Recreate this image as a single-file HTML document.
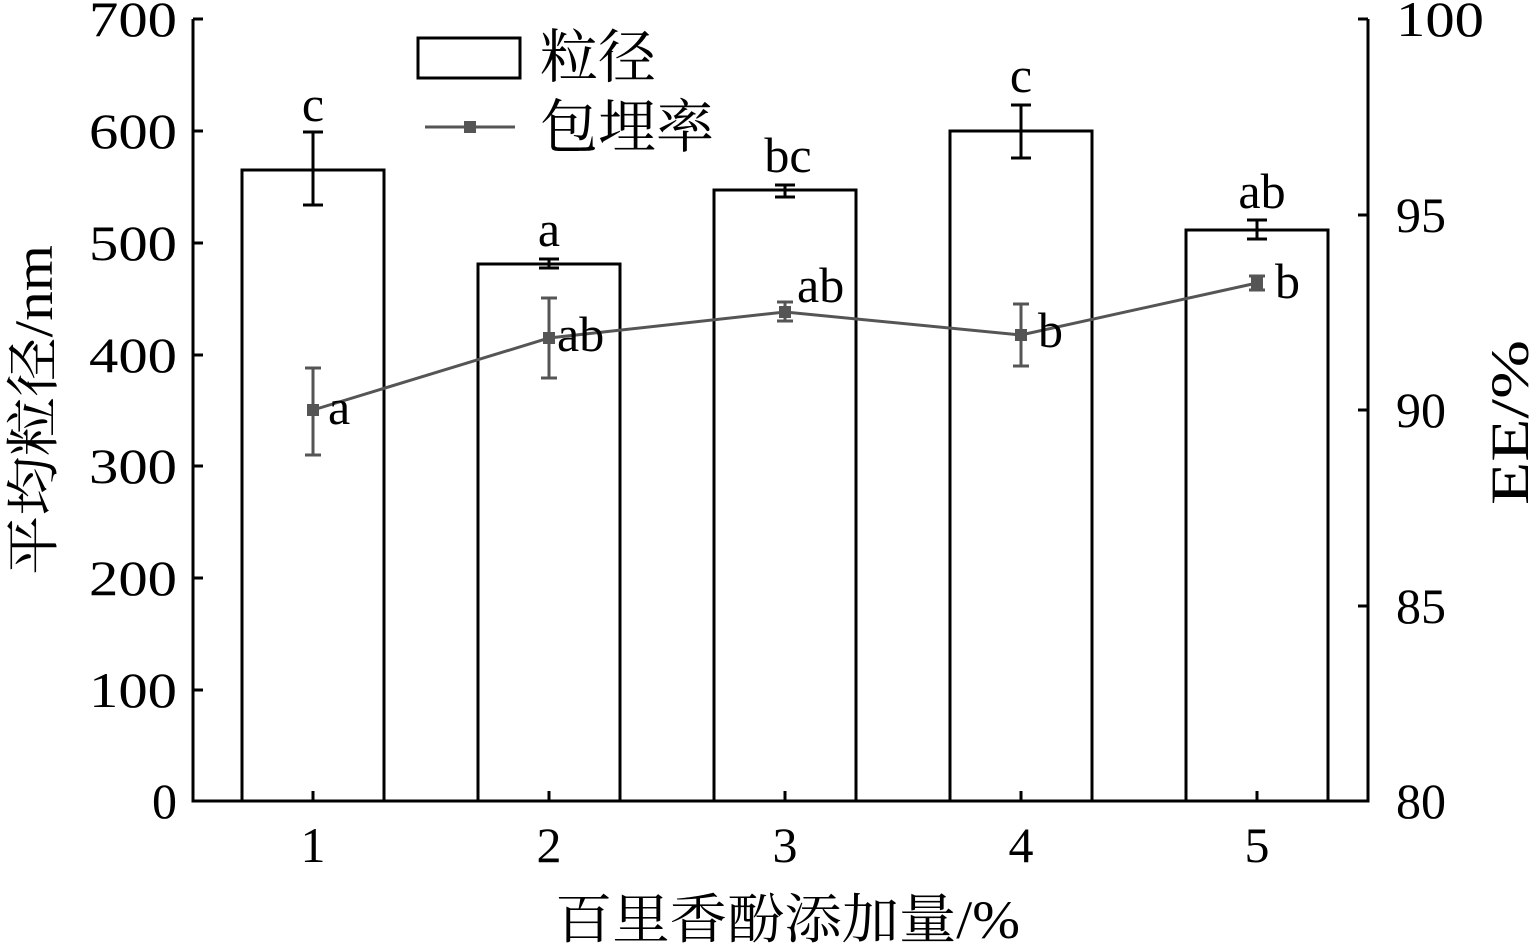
<!DOCTYPE html>
<html><head><meta charset="utf-8"><style>body{margin:0;background:#fff}</style></head><body>
<svg width="1530" height="946" xmlns="http://www.w3.org/2000/svg" font-family="'Liberation Serif','Noto Serif CJK SC',serif" font-size="50">
<rect width="1530" height="946" fill="#fff"/>
<g fill="#fff" stroke="#000" stroke-width="3">
<rect x="242" y="170" width="142" height="631"/>
<rect x="478" y="264" width="142" height="537"/>
<rect x="714" y="190" width="142" height="611"/>
<rect x="950" y="131" width="142" height="670"/>
<rect x="1186" y="230" width="142" height="571"/>
</g>
<g stroke="#000" stroke-width="3">
<path d="M313 132V205M303 132H323M303 205H323"/>
<path d="M549 259V268M539 259H559M539 268H559"/>
<path d="M785 185V197M775 185H795M775 197H795"/>
<path d="M1021 105V158M1011 105H1031M1011 158H1031"/>
<path d="M1257 220V239M1247 220H1267M1247 239H1267"/>
<path d="M193 19V801H1368V19" fill="none"/>
<path d="M193 19H203M193 131H203M193 243H203M193 355H203M193 466H203M193 578H203M193 690H203"/>
<path d="M1358 19H1368M1358 215H1368M1358 410H1368M1358 606H1368"/>
<path d="M313 801V791M549 801V791M785 801V791M1021 801V791M1257 801V791"/>
</g>
<g stroke="#555" stroke-width="3" fill="none">
<polyline points="313,410 549,338 785,312 1021,335 1257,283"/>
<path d="M313 368V455M305 368H321M305 455H321"/>
<path d="M549 298V378M541 298H557M541 378H557"/>
<path d="M785 302V321M777 302H793M777 321H793"/>
<path d="M1021 304V366M1013 304H1029M1013 366H1029"/>
<path d="M1257 276V290M1249 276H1265M1249 290H1265"/>
</g>
<g fill="#555">
<rect x="307" y="404" width="12" height="12"/><rect x="543" y="332" width="12" height="12"/><rect x="779" y="306" width="12" height="12"/><rect x="1015" y="329" width="12" height="12"/><rect x="1251" y="277" width="12" height="12"/>
</g>
<g text-anchor="end" lengthAdjust="spacingAndGlyphs">
<text x="177" y="36" textLength="88" lengthAdjust="spacingAndGlyphs">700</text><text x="177" y="148" textLength="88" lengthAdjust="spacingAndGlyphs">600</text><text x="177" y="260" textLength="88" lengthAdjust="spacingAndGlyphs">500</text><text x="177" y="372" textLength="88" lengthAdjust="spacingAndGlyphs">400</text><text x="177" y="483" textLength="88" lengthAdjust="spacingAndGlyphs">300</text><text x="177" y="595" textLength="88" lengthAdjust="spacingAndGlyphs">200</text><text x="177" y="707" textLength="88" lengthAdjust="spacingAndGlyphs">100</text><text x="177" y="818">0</text>
</g>
<g>
<text x="1396" y="36" textLength="88" lengthAdjust="spacingAndGlyphs">100</text><text x="1396" y="232">95</text><text x="1396" y="427">90</text><text x="1396" y="623">85</text><text x="1396" y="818">80</text>
</g>
<g text-anchor="middle">
<text x="313" y="862">1</text><text x="549" y="862">2</text><text x="785" y="862">3</text><text x="1021" y="862">4</text><text x="1257" y="862">5</text>
<text x="313" y="121">c</text><text x="549" y="246">a</text><text x="788" y="172">bc</text><text x="1021" y="92">c</text><text x="1262" y="208">ab</text>
</g>
<text x="328" y="424">a</text><text x="557" y="351">ab</text><text x="797" y="302">ab</text><text x="1038" y="347">b</text><text x="1275" y="298">b</text>
<text x="555" y="938" font-size="54" textLength="465" lengthAdjust="spacingAndGlyphs">百里香酚添加量/%</text>
<text transform="translate(52,575) rotate(-90)" font-size="54" textLength="330" lengthAdjust="spacingAndGlyphs">平均粒径/nm</text>
<text transform="translate(1528,505) rotate(-90)" font-size="54" textLength="165" lengthAdjust="spacingAndGlyphs">EE/%</text>
<rect x="418" y="38" width="102" height="40" fill="#fff" stroke="#000" stroke-width="3"/>
<text x="540" y="77" font-size="58">粒径</text>
<line x1="425" y1="127" x2="515" y2="127" stroke="#555" stroke-width="3"/>
<rect x="464" y="121" width="12" height="12" fill="#555"/>
<text x="540" y="147" font-size="58">包埋率</text>
</svg>
</body></html>
